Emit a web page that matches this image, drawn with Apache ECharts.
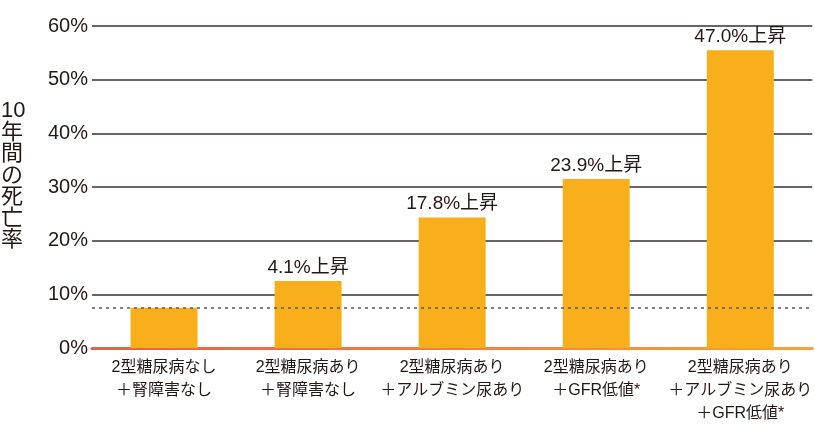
<!DOCTYPE html>
<html><head><meta charset="utf-8">
<script src="https://cdn.jsdelivr.net/npm/echarts@6/dist/echarts.min.js"></script>
<style>html,body{margin:0;padding:0;background:#fff}#c{width:815px;height:431px}</style>
</head><body><div id="c"></div>
<script>
const categories = [
  "2型糖尿病なし\n＋腎障害なし",
  "2型糖尿病あり\n＋腎障害なし",
  "2型糖尿病あり\n＋アルブミン尿あり",
  "2型糖尿病あり\n＋GFR低値*",
  "2型糖尿病あり\n＋アルブミン尿あり\n＋GFR低値*"
];
const deathRate = [7.5, 12.5, 24.3, 31.5, 55.5];
const increaseLabels = ["", "4.1%上昇", "17.8%上昇", "23.9%上昇", "47.0%上昇"];
const baseline = 7.5;
const yTicks = [0, 10, 20, 30, 40, 50, 60];

const FONT = "'Liberation Sans', 'Noto Sans CJK JP', sans-serif";
const chart = echarts.init(document.getElementById('c'), null, {renderer: 'canvas'});
chart.setOption({
  animation: false,
  backgroundColor: '#fff',
  textStyle: {fontFamily: FONT},
  grid: {left: 92, right: 0, top: 26, bottom: 83},
  graphic: [{
    type: 'text', left: 1, top: 100,
    style: {text: '10\n年\n間\nの\n死\n亡\n率', font: "22px " + FONT, fill: '#231815', lineHeight: 21.5, align: 'center'}
  }],
  xAxis: {
    type: 'category', data: categories,
    axisTick: {show: false},
    axisLine: {lineStyle: {width: 3, color: {type: 'linear', x: 0, y: 0, x2: 1, y2: 0,
      colorStops: [{offset: 0, color: '#E85F4E'}, {offset: 1, color: '#F5A43A'}]}}},
    axisLabel: {interval: 0, margin: 8, fontSize: 16, lineHeight: 23, color: '#231815', fontFamily: FONT}
  },
  yAxis: {
    type: 'value', min: yTicks[0], max: yTicks[yTicks.length - 1], interval: 10,
    axisLine: {show: false}, axisTick: {show: false},
    axisLabel: {formatter: '{value}%', fontSize: 20, margin: 4, color: '#231815', fontFamily: FONT},
    splitLine: {lineStyle: {color: '#3a3030', width: 1.5}}
  },
  series: [{
    type: 'bar', data: deathRate, barWidth: 67,
    itemStyle: {color: '#F8AF1B'},
    label: {
      show: true, position: 'top', distance: 4,
      formatter: p => increaseLabels[p.dataIndex],
      fontSize: 19, color: '#231815', fontFamily: FONT,
      backgroundColor: '#fff', padding: [0, 3]
    },
    markLine: {
      silent: true, symbol: 'none', label: {show: false},
      lineStyle: {color: '#555a66', type: [3, 4], width: 1.5},
      data: [{yAxis: baseline}]
    },
    z: 3
  }]
});
</script></body></html>
